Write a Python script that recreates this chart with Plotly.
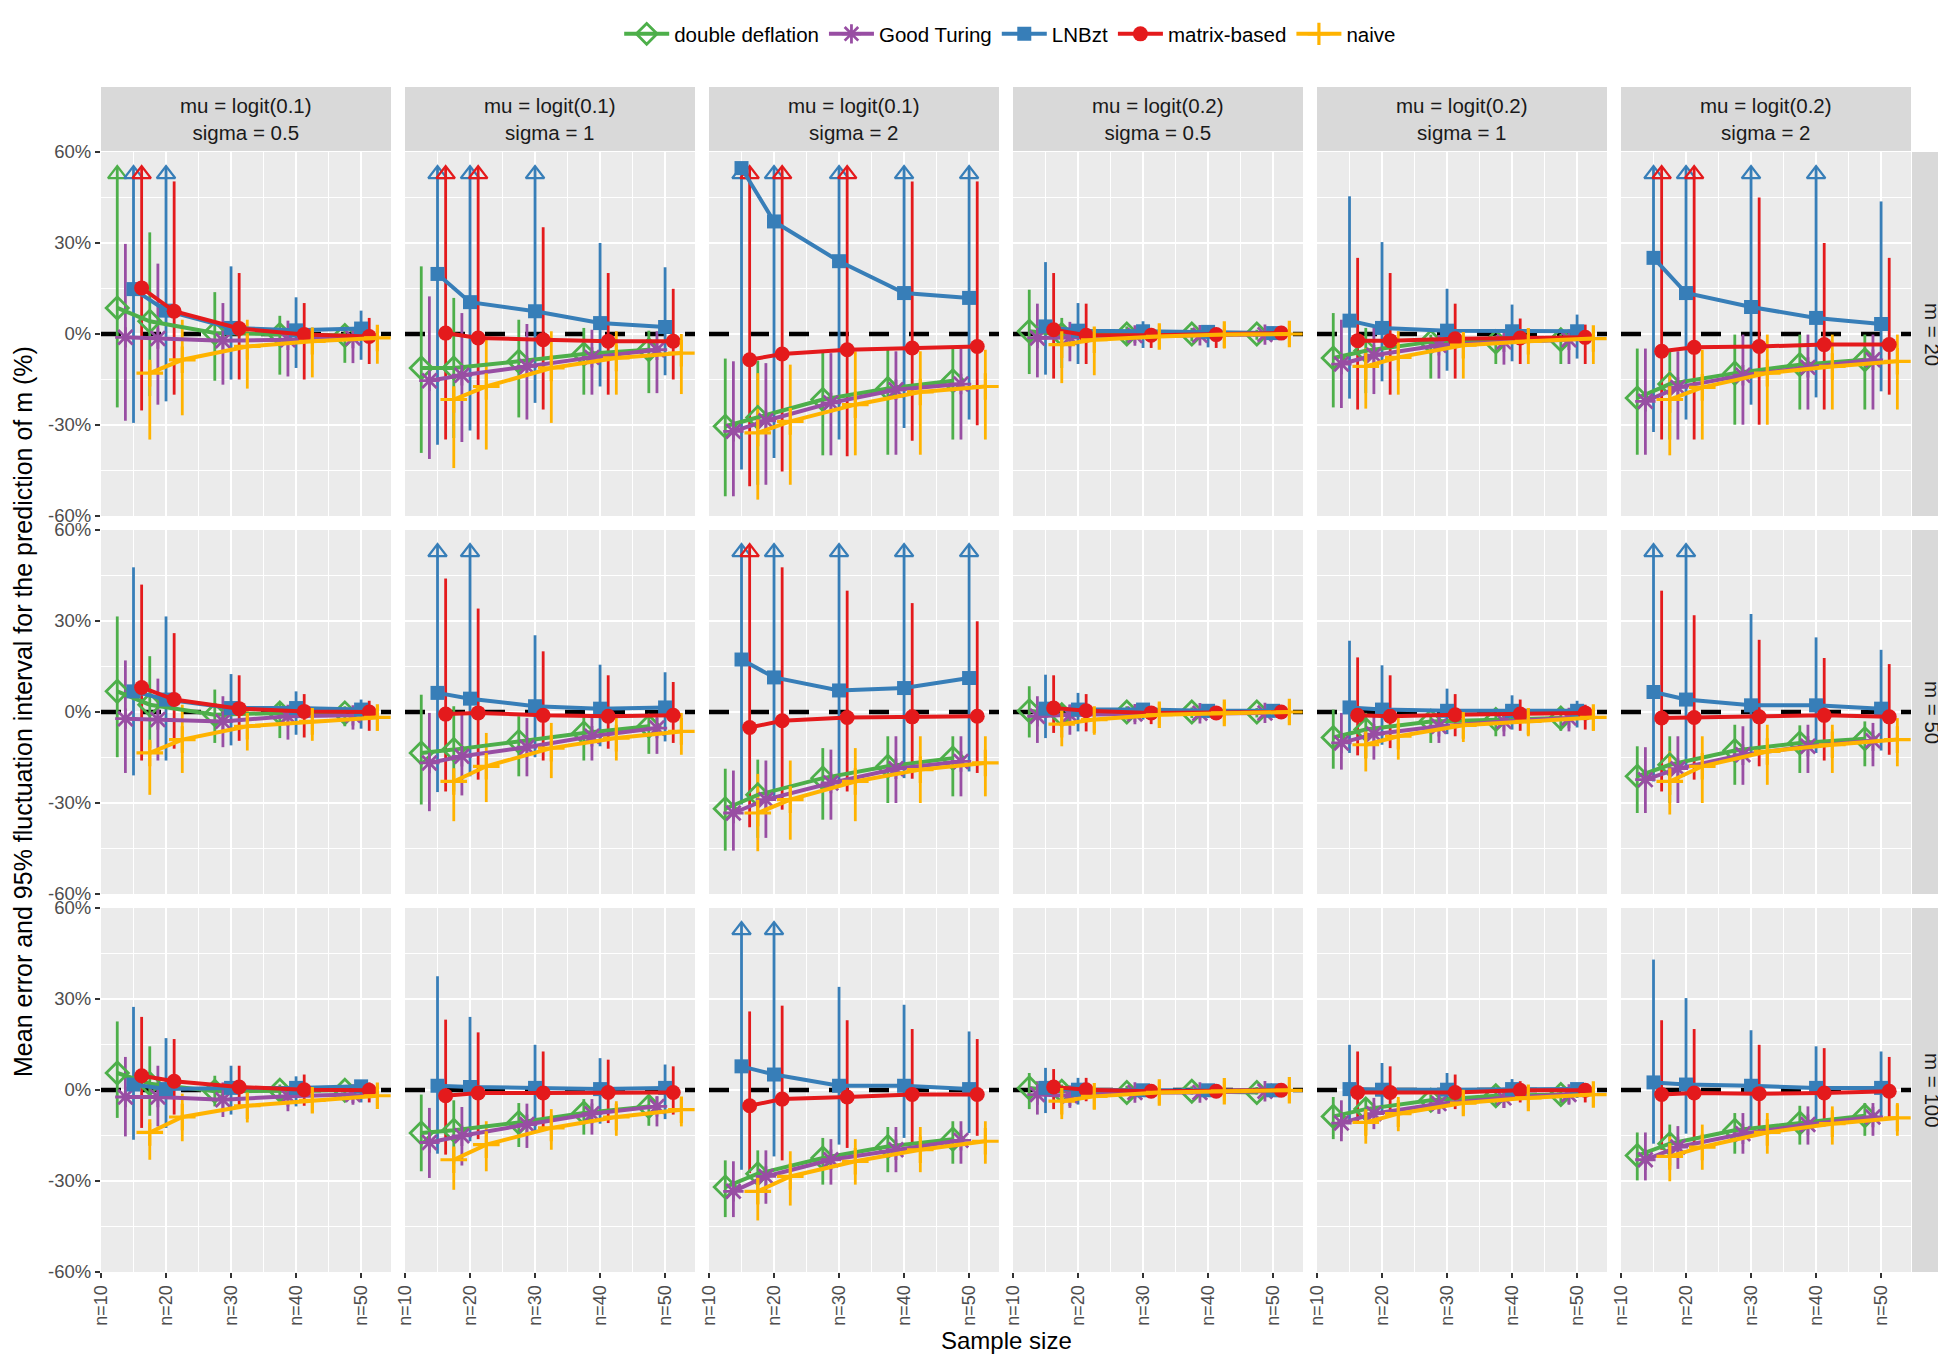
import plotly.graph_objects as go

W, H = 1946, 1356

sample_sizes = [15, 20, 30, 40, 50]
methods = ["double deflation", "Good Turing", "LNBzt", "matrix-based", "naive"]
mu_labels = ["logit(0.1)", "logit(0.1)", "logit(0.1)", "logit(0.2)", "logit(0.2)", "logit(0.2)"]
sigma_labels = ["0.5", "1", "2", "0.5", "1", "2"]
m_labels = ["20", "50", "100"]
y_ticks = [-60, -30, 0, 30, 60]
y_tick_labels = ["-60%", "-30%", "0%", "30%", "60%"]
x_ticks = [10, 20, 30, 40, 50]
x_tick_labels = ["n=10", "n=20", "n=30", "n=40", "n=50"]

# panels in reading order: m=20 (6 facets), m=50 (6), m=100 (6); values in %
# upper bounds above the plotted range are marked with an arrow head
dd_mean = [
    [8.6, 4.2, 0.3, -0.2, -0.5], [-11.2, -11.2, -9, -6.6, -5.2], [-30.4, -27.5, -21.6, -18, -15.4],
    [0.9, -0.2, 0, 0, 0], [-7.9, -5.5, -2.6, -2.6, -1.9], [-21.1, -16.5, -12.9, -10.1, -8.5],
    [6.8, 2.4, -0.9, -0.3, -0.3], [-13.5, -12.4, -9.7, -6.9, -4.7], [-31.9, -27.3, -21.8, -17.9, -15.2],
    [0.4, -0.9, 0, 0, 0], [-8.4, -5.8, -3.1, -2.5, -2], [-21.2, -17.4, -12.7, -10.2, -8.8],
    [5.6, 2.1, -0.4, -0.1, -0.1], [-14.2, -13.3, -10.7, -7.6, -5.4], [-32, -27.6, -22.4, -18.6, -16.2],
    [0.7, -0.4, -0.8, -0.4, -0.8], [-8.7, -6.3, -3.4, -1.9, -1.5], [-21.6, -17.7, -13.3, -10.9, -8.5],
]
dd_lo = [
    [-24.2, -20.5, -15.4, -13.4, -9.5], [-39.2, -34.3, -27.5, -20, -19.5], [-53.5, -49.7, -40, -39.8, -34.8],
    [-13.2, -11.2, -3, -2.4, -1.9], [-24.2, -19.5, -14.7, -9.9, -9.9], [-39.8, -34.8, -29.9, -24.9, -24.9],
    [-14.9, -11.9, -10.2, -8.6, -4.7], [-30.5, -26.2, -21.2, -16, -13.8], [-45.7, -41.5, -35.5, -30, -27.8],
    [-8.4, -4.7, -2.5, -2, -1.8], [-18.7, -15.4, -10.2, -8, -6.2], [-33.3, -30, -24, -20.1, -17.9],
    [-9.2, -8.5, -5.4, -3.2, -2.3], [-26.8, -24.3, -18.8, -14.7, -11.8], [-41.9, -37.5, -31.2, -27.1, -24.3],
    [-6.3, -3.7, -1.9, -1.5, -1.5], [-16.2, -13.3, -7, -5.4, -4.3], [-29.8, -24.9, -21, -18, -15.1],
]
dd_hi = [
    [70, 33.5, 13.8, 6, 2], [22.3, 11.9, 4.7, 2, 1.1], [-8.1, -8.8, -5.9, -5.2, -4.8],
    [14.6, 5.3, 2.5, 2, 1.4], [6.9, 2, -0.2, -0.5, 0], [-4.8, -5.7, -0.2, -0.2, -0.2],
    [31.5, 18.4, 7.4, 3.2, 1.9], [5.7, 1.9, -1.4, -0.9, -0.9], [-18.7, -15.7, -11.9, -8, -8],
    [8.5, 2.4, 1.9, 1.5, 1.3], [0.8, -0.3, -0.9, -0.3, 0.2], [-11.3, -8, -4.2, -4.4, -3.1],
    [22.6, 14.4, 4.7, 1.8, 1], [-1.5, -3.4, -4.3, -3, -1.9], [-23.2, -19.9, -15.8, -12.2, -10.3],
    [5.6, 1.8, 1.4, 1.2, 1], [-2.3, -3.2, -1.5, -0.4, 0.1], [-14, -11.4, -7.6, -5.2, -4.3],
]

gt_mean = [
    [-1.1, -1.5, -2.2, -1.9, -1.3], [-15.4, -13.6, -10.7, -7.7, -5.2], [-32.1, -28.6, -22.7, -18.4, -16.5],
    [-1.3, -1.1, -0.5, -0.4, -0.2], [-9.9, -7, -3.7, -2.6, -1.9], [-22.2, -17.6, -13.6, -11, -8.5],
    [-2.2, -2.5, -3.1, -1.4, -1.1], [-16.8, -14.6, -11.6, -8, -5.3], [-33.3, -28.9, -23.4, -18.7, -16.3],
    [-1.4, -0.9, -0.7, -0.4, -0.3], [-10.2, -7.3, -4.7, -3.1, -2], [-22.3, -18.7, -14.1, -11.3, -9.5],
    [-2.3, -2.3, -3.2, -2.1, -1.5], [-17.3, -15.1, -11.4, -7.8, -5.4], [-33.4, -28.5, -23, -19.7, -16.6],
    [-1.5, -1.9, -0.8, -0.8, -0.4], [-10.9, -7.8, -4.5, -2.6, -1.5], [-23, -18.8, -14.4, -11.4, -8.9],
]
gt_lo = [
    [-28.6, -23.3, -16.7, -14, -9.6], [-41.2, -35.6, -28.2, -20, -19.5], [-53.5, -49.7, -40, -39.8, -34.8],
    [-14.3, -9, -3, -1.9, -1.5], [-24.4, -19.8, -14.7, -10.1, -9.9], [-39.8, -34.8, -29.9, -24.9, -24.9],
    [-20.1, -16, -11.6, -9.1, -5.8], [-32.7, -27.5, -21.2, -16, -13.8], [-45.7, -41.5, -35.5, -30, -27.8],
    [-10.2, -7.5, -3.3, -2.5, -2], [-19, -15.7, -10.2, -8, -6.4], [-33.3, -30, -24, -20.1, -17.9],
    [-15.3, -12, -8.9, -7, -4.3], [-29, -24.9, -19.1, -14.7, -12], [-41.9, -37.5, -31.2, -27.1, -24.3],
    [-8.1, -5.9, -3, -2.3, -1.5], [-16.9, -12.9, -7.8, -5.9, -4.5], [-29.8, -26, -21, -18, -15.1],
]
gt_hi = [
    [29.7, 23.2, 10.2, 4.4, 0.3], [12.4, 6.9, 3.3, 1.4, 0.9], [-9, -9.6, -6.3, -5.7, -4.8],
    [10, 4, 2, 1.4, 1.1], [4.7, 2, -0.4, -0.2, 0], [-4.8, -5.7, -0.2, -0.2, -0.2],
    [17, 11, 5.2, 2.4, 0.8], [-0.3, -0.9, -2, -0.9, -1.4], [-19.3, -16, -12.4, -8, -8],
    [5.2, 2.4, 1.3, 1.1, 0.8], [-0.3, -0.9, -0.9, -0.9, -0.3], [-11.6, -8, -4.7, -4.2, -3.6],
    [10.9, 8, 2.5, 0.1, 0.1], [-5.9, -5.6, -4.5, -3, -2.1], [-23.5, -19.9, -16.2, -12.2, -10.3],
    [2.9, 1.4, 1.2, 1, 0.7], [-3.4, -2.6, -1.9, -0.4, -0.4], [-14, -11.9, -7.6, -5.4, -4.3],
]

ln_mean = [
    [14.8, 7.7, 2, 1.2, 1.8], [19.8, 10.5, 7.5, 3.6, 2.3], [54.7, 37.1, 24, 13.5, 11.9],
    [2.5, 1.1, 0.9, 0.7, 0.3], [4.4, 2, 1.1, 0.9, 0.9], [25.1, 13.5, 8.9, 5.3, 3.3],
    [6.8, 4.1, 1.3, 1.3, 0.8], [6.3, 4.4, 1.9, 1.1, 1.5], [17.3, 11.4, 7.1, 7.9, 11.2],
    [1.1, 0.8, 0.8, 0.4, 0.4], [1.5, 0.8, 0.4, 0.4, 0.4], [6.6, 4.1, 2.2, 2.2, 1.1],
    [1.8, 0.3, 0.7, 0.7, 1.2], [1.4, 1, 0.7, 0.3, 0.7], [7.8, 5.1, 1.4, 1.4, 0.3],
    [0.7, 0.1, -0.1, -0.1, -0.1], [0.3, 0.1, 0.1, 0.3, 0.3], [2.5, 1.8, 1.4, 0.7, 0.7],
]
ln_lo = [
    [-29.3, -22.2, -15, -11.2, -8.5], [-36.5, -31.8, -22.7, -17.3, -13.6], [-44.7, -40.9, -34.8, -31, -28.2],
    [-13.4, -9.9, -4.6, -4.4, -1.9], [-21.3, -15.6, -12.1, -9, -8.1], [-32.3, -28.2, -23.3, -20.9, -18.9],
    [-20.9, -16, -11, -7.5, -5.5], [-26.4, -21.2, -14.9, -11.3, -9.7], [-30.5, -27.8, -24.5, -21.8, -19.6],
    [-8.6, -6.4, -2.5, -2, -1.8], [-13.5, -10.8, -7.3, -5.8, -5.1], [-22.9, -18.5, -14.3, -13.5, -12.7],
    [-16.4, -12.5, -8.1, -5.4, -4.1], [-21, -16.9, -14, -11.1, -9.6], [-26.3, -21.9, -18, -15.8, -14.2],
    [-7.6, -4.8, -2.3, -2.1, -1.5], [-10.9, -7.8, -4.8, -3.2, -2.6], [-17.7, -14.4, -12.9, -11.4, -8.9],
]
ln_hi = [
    [70, 70, 22.3, 12.1, 7.7], [70, 70, 70, 30, 22], [70, 70, 70, 70, 70],
    [23.7, 10.2, 4.2, 2.5, 1.8], [45.4, 30.3, 14.9, 9.7, 6.4], [70, 70, 70, 70, 43.7],
    [47.7, 31.5, 12.5, 6.8, 4.1], [70, 70, 25.3, 15.6, 13.1], [70, 70, 70, 70, 70],
    [12.3, 6.3, 2.4, 1.9, 1.5], [23.5, 15.4, 7.7, 5.5, 3.7], [70, 70, 32.3, 24.6, 20.5],
    [27.4, 17.1, 8, 4.5, 2.9], [37.5, 24.1, 14.9, 10.5, 8.4], [70, 70, 34, 28.1, 19.3],
    [7.3, 4, 1.8, 1.4, 1.2], [14.9, 8.9, 5.6, 3.6, 2.3], [43, 30.3, 19.7, 14.4, 12.7],
]

mb_mean = [
    [15.2, 7.5, 1.8, -0.2, -0.8], [0.3, -1.3, -1.9, -2.4, -2.4], [-8.5, -6.6, -5.2, -4.6, -4.1],
    [1.4, -0.4, -0.4, -0.2, 0.3], [-2.2, -2.2, -1.6, -1.3, -1.1], [-5.7, -4.4, -4.1, -3.5, -3.5],
    [8.1, 4.1, 1.1, 0.2, 0], [-0.7, -0.3, -1.1, -1.4, -1.1], [-5.1, -2.9, -1.8, -1.6, -1.4],
    [1.3, 0.4, -0.3, -0.3, 0], [-1.1, -1.4, -0.9, -0.7, -0.3], [-2, -1.8, -1.6, -1.1, -1.6],
    [4.7, 2.9, 1, 0.1, -0.1], [-1.9, -1, -1, -0.8, -0.8], [-5.2, -3, -2.3, -1.5, -1.5],
    [1, 0.1, -0.4, -0.4, -0.1], [-0.8, -0.8, -0.8, -0.1, -0.1], [-1.5, -1, -1.2, -1, -0.4],
]
mb_lo = [
    [-25.2, -20, -15, -15, -9.9], [-34.8, -34.8, -24.9, -20, -15], [-50.2, -45.3, -40.3, -35.2, -30.1],
    [-14.7, -9.9, -4.6, -4.6, -1.3], [-24.9, -20, -14.7, -9.9, -9.9], [-34.8, -34.8, -29.9, -24.9, -20],
    [-16, -12.1, -9.5, -8.4, -6.2], [-26.2, -22.3, -16, -12.1, -10.2], [-38, -32.2, -26.2, -22, -20.1],
    [-6.9, -6.4, -4, -2.5, -1.8], [-14.3, -11.9, -8, -6.2, -5.8], [-26.2, -22.3, -17.9, -16, -14.1],
    [-12.5, -8.1, -5.4, -5.2, -4.1], [-21.3, -16.2, -13.3, -10.9, -8.1], [-27.4, -23.2, -19.1, -17.3, -15.1],
    [-6.3, -3.7, -2.6, -1.9, -1.2], [-10.9, -7.8, -6.3, -4.1, -4.1], [-19.7, -17.3, -13.3, -12, -8.9],
]
mb_hi = [
    [70, 50.3, 20.1, 10.2, 5.3], [70, 70, 35.2, 20.1, 14.9], [70, 70, 70, 50.3, 50.3],
    [20.1, 10, 2, 1.8, 1.4], [25.1, 20.1, 10, 5.1, 3.1], [70, 70, 45, 30, 25.1],
    [42, 26, 12.1, 5.9, 3.7], [44, 34.1, 20, 12.1, 9.9], [70, 47.7, 40, 35.9, 29.9],
    [12.1, 5.9, 1.9, 1.9, 1.1], [18, 12.1, 5.9, 4.1, 2.4], [40, 31.9, 23.8, 17.8, 15.8],
    [24.1, 16.8, 8, 5.1, 2.5], [23.2, 19, 12.7, 10, 7.8], [25.9, 27.8, 23, 20.1, 16.8],
    [6.9, 4, 1.2, 1, 1], [12.7, 7.8, 5.1, 2.9, 1.2], [23, 20.1, 14.9, 13.8, 10.9],
]

nv_mean = [
    [-12.9, -8.5, -4.1, -2.4, -1.3], [-21.6, -17.3, -11.2, -7.9, -6.3], [-32.6, -28.8, -23.3, -19.1, -17.3],
    [-3.5, -1.9, -0.8, -0.2, 0], [-10.7, -7.7, -3.7, -2.4, -1.5], [-21.6, -17.6, -12.9, -10.7, -9],
    [-13.5, -9.1, -4.7, -3.1, -1.8], [-22.9, -17.9, -11.9, -8.6, -6.4], [-33.3, -28.9, -22.9, -19, -16.8],
    [-4, -2.5, -0.9, -0.3, 0], [-10.8, -8, -4.4, -3.1, -1.8], [-22.9, -17.9, -13, -10.8, -9.1],
    [-14, -8.9, -5.2, -3.4, -1.9], [-23, -18, -12.5, -8.9, -6.5], [-33.4, -28.5, -23.5, -19.7, -16.9],
    [-3.7, -2.1, -0.8, -0.4, -0.1], [-10.7, -7.8, -4.3, -2.6, -1.5], [-21.9, -18.8, -14, -11.1, -9.2],
]
nv_lo = [
    [-34.8, -26.8, -18, -14.3, -9.8], [-44.2, -38.1, -29.3, -20, -19.8], [-54.6, -49.7, -40, -39.8, -34.8],
    [-16.2, -13.6, -4.8, -4.8, -3.5], [-24.6, -20, -14.7, -9.9, -9.9], [-40, -34.8, -29.9, -24.9, -24.9],
    [-27.3, -20.1, -12.7, -9.5, -6.2], [-36, -29.7, -21.8, -16, -14.1], [-45.9, -42.1, -36, -30, -27.8],
    [-11.3, -7.5, -4.2, -3.9, -3.6], [-19.6, -15.7, -9.9, -8, -6.2], [-33.8, -30, -24, -20.1, -17.9],
    [-23, -16.9, -10.7, -7.4, -5.4], [-32.9, -26.8, -19.7, -15.1, -12], [-43, -38.1, -31.2, -27.1, -24.3],
    [-9.6, -6.3, -4.5, -3.7, -3.7], [-17.7, -13.6, -8.1, -5.9, -5.2], [-30.1, -26.3, -21, -18, -15.1],
]
nv_hi = [
    [-9.9, 4.7, 4.7, 2.2, 2], [-18, -1.3, 0.9, 0.9, 0], [-12.9, -10.1, -5.7, -5.7, -5.2],
    [2.5, 0.9, 3.1, 3.1, 3.3], [-4.6, 0.9, 0.3, 0.9, 1.8], [-12.3, -5.2, -0.2, -0.2, -0.2],
    [-9.7, 2.4, 1.9, 0.8, 1.9], [-20.7, -6.9, -3.6, -0.9, -0.3], [-20.4, -16, -11.9, -8, -8],
    [1.3, 1.3, 3, 3.3, 3.3], [-7.5, -1.4, -0.9, 0.2, 1.3], [-13, -8, -4.2, -4.2, -2],
    [-10.9, -1.2, 0.1, 0.7, 1.4], [-19.1, -10.3, -6.3, -3.7, -2.3], [-27.9, -20.2, -16.2, -12.2, -10.3],
    [-0.8, 1, 2.9, 2.9, 3.2], [-7.4, -2.3, -1, -0.4, 1.8], [-15.3, -11.4, -7.6, -5.4, -4.3],
]

series = {
    "double deflation": (dd_mean, dd_lo, dd_hi),
    "Good Turing": (gt_mean, gt_lo, gt_hi),
    "LNBzt": (ln_mean, ln_lo, ln_hi),
    "matrix-based": (mb_mean, mb_lo, mb_hi),
    "naive": (nv_mean, nv_lo, nv_hi),
}

colors = {"double deflation": "#4DAF4A", "Good Turing": "#984EA3", "LNBzt": "#377EB8",
          "matrix-based": "#E41A1C", "naive": "#FFB300"}
symbols = {"double deflation": ("diamond-open", 17, 2.8), "Good Turing": ("asterisk-open", 17, 2.8),
           "LNBzt": ("square", 14, 0), "matrix-based": ("circle", 15, 0),
           "naive": ("cross-thin-open", 19, 3.2)}
dodge = {"double deflation": -2.5, "Good Turing": -1.25, "LNBzt": 0, "matrix-based": 1.25, "naive": 2.5}

X_RANGE = [10, 54.6]
Y_RANGE = [-60, 60]
CLIP = 55       # error bars are cut here
ARROW_Y = 52.7  # where the arrow head sits
FONT = "Liberation Sans, Arial, Helvetica, sans-serif"

# panel geometry in pixels
left, top = 93, 144
pw, ph = 290, 364
gap_x, gap_y = 14, 14
strip_h = 64

fig = go.Figure()

for k in range(18):
    r, c = divmod(k, 6)
    ax = "" if k == 0 else str(k + 1)
    x0 = left + c * (pw + gap_x)
    y0 = top + r * (ph + gap_y)
    fig.update_layout(**{
        f"xaxis{ax}": dict(
            domain=[x0 / W, (x0 + pw) / W], anchor=f"y{ax}", range=X_RANGE,
            tickvals=x_ticks, ticktext=x_tick_labels, tickangle=-90,
            showticklabels=(r == 2), ticks="outside" if r == 2 else "", ticklen=5,
            tickcolor="#333333", tickwidth=1.5, automargin=False,
            tickfont=dict(size=18, color="#4D4D4D", family=FONT),
            showgrid=True, gridcolor="white", gridwidth=2, zeroline=False, showline=False,
            minor=dict(dtick=5, tick0=10, showgrid=True, gridcolor="white", gridwidth=1),
        ),
        f"yaxis{ax}": dict(
            domain=[1 - (y0 + ph) / H, 1 - y0 / H], anchor=f"x{ax}", range=Y_RANGE,
            tickvals=y_ticks, ticktext=y_tick_labels,
            showticklabels=(c == 0), ticks="outside" if c == 0 else "", ticklen=5,
            tickcolor="#333333", tickwidth=1.5, automargin=False,
            tickfont=dict(size=18.5, color="#4D4D4D", family=FONT),
            showgrid=True, gridcolor="white", gridwidth=2, zeroline=False, showline=False,
            minor=dict(dtick=15, tick0=0, showgrid=True, gridcolor="white", gridwidth=1),
        ),
    })

    # dashed reference line at 0 across the panel
    fig.add_trace(go.Scatter(
        x=X_RANGE, y=[0, 0], mode="lines", xaxis=f"x{ax}", yaxis=f"y{ax}",
        line=dict(color="black", width=4.5, dash="20px,20px"), showlegend=False, hoverinfo="skip",
    ))

    # error bars first (under every line)
    for name in methods:
        mean, lo, hi = series[name]
        xs = [n + dodge[name] for n in sample_sizes]
        up = [min(h, CLIP) - m for h, m in zip(hi[k], mean[k])]
        dn = [m - l for m, l in zip(mean[k], lo[k])]
        fig.add_trace(go.Scatter(
            x=xs, y=mean[k], mode="markers", xaxis=f"x{ax}", yaxis=f"y{ax}",
            marker=dict(size=1, opacity=0, color=colors[name]), showlegend=False, hoverinfo="skip",
            error_y=dict(type="data", symmetric=False, array=up, arrayminus=dn,
                         color=colors[name], thickness=2.8, width=0),
        ))
        clipped = [x for x, h in zip(xs, hi[k]) if h > CLIP]
        if clipped:
            fig.add_trace(go.Scatter(
                x=clipped, y=[ARROW_Y] * len(clipped), mode="markers", xaxis=f"x{ax}", yaxis=f"y{ax}",
                marker=dict(symbol="triangle-up-open", size=16, color=colors[name],
                            line=dict(color=colors[name], width=2.4)),
                showlegend=False, hoverinfo="skip",
            ))

    for name in methods:
        mean, lo, hi = series[name]
        xs = [n + dodge[name] for n in sample_sizes]
        sym, size, lw = symbols[name]
        fig.add_trace(go.Scatter(
            x=xs, y=mean[k], mode="lines+markers", name=name, legendgroup=name,
            showlegend=(k == 0), xaxis=f"x{ax}", yaxis=f"y{ax}",
            line=dict(color=colors[name], width=4),
            marker=dict(symbol=sym, size=size, color=colors[name],
                        line=dict(color=colors[name], width=lw)),
        ))

    # facet strips
    if r == 0:
        fig.add_shape(type="rect", xref="paper", yref="paper",
                      x0=x0 / W, x1=(x0 + pw) / W, y0=1 - (y0 - 1) / H, y1=1 - (y0 - 1 - strip_h) / H,
                      fillcolor="#D9D9D9", line=dict(width=0), layer="below")
        fig.add_annotation(x=(x0 + pw / 2) / W, y=1 - (y0 - 1 - strip_h / 2) / H, xref="paper", yref="paper",
                           xanchor="center", yanchor="middle",
                           text=f"mu = {mu_labels[c]}<br>sigma = {sigma_labels[c]}", showarrow=False,
                           align="center", font=dict(size=20.5, color="#1A1A1A", family=FONT))
    if c == 5:
        sx = x0 + pw + 1
        fig.add_shape(type="rect", xref="paper", yref="paper",
                      x0=sx / W, x1=1, y0=1 - (y0 + ph) / H, y1=1 - y0 / H,
                      fillcolor="#D9D9D9", line=dict(width=0), layer="below")
        fig.add_annotation(x=(sx + (W - sx) / 2) / W, y=1 - (y0 + ph / 2) / H, xref="paper", yref="paper",
                           xanchor="center", yanchor="middle",
                           text=f"m = {m_labels[r]}", textangle=90, showarrow=False,
                           font=dict(size=20.5, color="#1A1A1A", family=FONT))

fig.add_annotation(x=(left + (6 * pw + 5 * gap_x) / 2) / W, y=1 - 1332 / H, xref="paper", yref="paper",
                   xanchor="center", yanchor="middle",
                   text="Sample size", showarrow=False, font=dict(size=24, color="black", family=FONT))
fig.add_annotation(x=15 / W, y=1 - (top + (3 * ph + 2 * gap_y) / 2) / H, xref="paper", yref="paper",
                   xanchor="center", yanchor="middle",
                   text="Mean error and 95% fluctuation interval for the prediction of m (%)",
                   textangle=-90, showarrow=False, font=dict(size=25, color="black", family=FONT))

fig.update_layout(
    width=W, height=H,
    margin=dict(l=0, r=0, t=0, b=0, autoexpand=False),
    paper_bgcolor="white", plot_bgcolor="#EBEBEB",
    font=dict(family=FONT),
    legend=dict(orientation="h", x=0.515, xanchor="center", y=1 - 26 / H, yanchor="middle",
                font=dict(size=20.5, color="black", family=FONT), itemwidth=45,
                bgcolor="rgba(0,0,0,0)"),
)

fig.write_html("out.html")
